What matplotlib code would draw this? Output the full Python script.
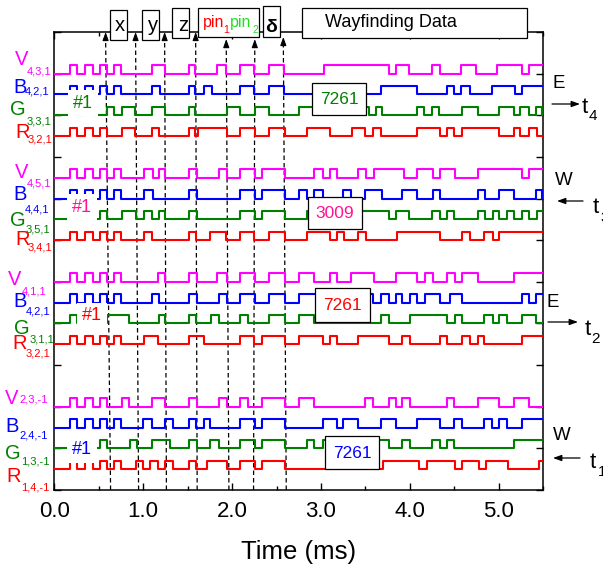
import matplotlib
matplotlib.use("Agg")
import matplotlib.pyplot as plt
from matplotlib.patches import Rectangle
from matplotlib.ticker import MultipleLocator

plt.rcParams['font.family'] = ['Liberation Sans', 'DejaVu Sans']

T_END = 5.5      # ms
PULSE = 0.2      # height of a pulse (y units)

# common preamble of every channel (toggle times, ms)
PRE = [0.18, 0.26, 0.34, 0.43, 0.51, 0.59, 0.67, 0.75]

# toggle times (ms), every line starts low
# t4 group
V_431 = PRE + [1.10, 1.24, 1.51, 1.58, 1.83, 1.93, 2.09, 2.25, 2.41, 2.58, 3.03, 3.77,
               3.84, 3.99, 4.25, 4.34, 4.57, 4.74, 4.98, 5.26, 5.34]
B_421a = PRE + [1.10, 1.19, 1.51, 1.58, 1.68, 1.77, 2.09, 2.25, 2.41, 2.58, 3.67, 4.08,
                4.42, 4.49, 4.57, 4.67, 4.92, 5.18, 5.26]
G_331 = PRE[:4] + [0.59, 0.67, 0.76, 0.91, 1.10, 1.24, 1.51, 1.58, 1.94, 2.09, 2.26, 2.42,
                   2.75, 3.54, 3.62, 3.69, 4.08, 4.16, 4.25, 4.33, 4.58, 4.76, 5.00, 5.17,
                   5.24, 5.34, 5.42, 5.48]
R_321a = PRE[:6] + [0.76, 0.91, 1.10, 1.18, 1.52, 1.58, 1.62, 1.94, 2.09, 2.26, 2.42, 2.59,
                    2.84, 3.10, 3.35, 3.50, 3.59, 3.67, 4.08, 4.34, 4.42, 4.49, 4.59, 5.00,
                    5.17, 5.24, 5.34, 5.43]
# t3 group
V_451 = PRE + [1.01, 1.11, 1.18, 1.25, 1.52, 1.60, 1.85, 1.94, 2.09, 2.26, 2.34, 2.59,
               2.92, 3.02, 3.10, 3.18, 3.42, 3.51, 3.60, 3.93, 4.08, 4.26, 4.34, 4.51,
               4.76, 5.26, 5.34]
B_441 = PRE + [1.01, 1.11, 1.52, 1.60, 2.09, 2.26, 2.34, 2.59, 2.75, 2.84, 2.92, 3.02,
               3.25, 3.34, 3.50, 3.69, 3.91, 4.08, 4.26, 4.34, 4.76, 4.84, 5.00, 5.17,
               5.42, 5.49]
G_351 = PRE[:6] + [0.76, 0.92, 1.01, 1.10, 1.18, 1.25, 1.52, 1.60, 2.09, 2.26, 2.34, 2.59,
                   2.84, 3.76, 3.84, 3.99, 4.25, 4.34, 4.42, 4.49, 4.76, 4.84, 4.93, 5.00,
                   5.09, 5.17, 5.26, 5.34, 5.43]
R_341 = PRE + [1.01, 1.10, 1.51, 1.59, 1.75, 1.93, 2.09, 2.25, 2.41, 2.59, 2.84, 3.10,
               3.18, 3.26, 3.42, 3.51, 3.86, 4.34, 4.59, 4.68, 4.83, 4.93, 5.00]
# t2 group
V_411 = PRE + [1.17, 1.25, 1.52, 1.60, 1.83, 1.94, 2.09, 2.26, 2.42, 2.59, 2.75, 2.92,
               3.10, 3.18, 3.34, 3.60, 3.84, 4.08, 4.17, 4.26, 4.42, 4.51, 4.59, 4.76, 5.17]
B_421b = PRE + [1.10, 1.18, 1.52, 1.60, 1.85, 1.94, 2.09, 2.26, 2.42, 2.59, 2.75, 3.59,
                3.67, 3.76, 3.84, 3.91, 4.00, 4.08, 4.17, 4.34, 4.45, 4.58, 5.26, 5.34, 5.42]
G_311 = PRE[:4] + [0.59, 0.84, 1.18, 1.25, 1.51, 1.59, 1.76, 1.85, 2.09, 2.18, 2.42, 2.59,
                   2.75, 2.92, 3.67, 3.76, 4.00, 4.42, 4.51, 4.59, 4.83, 4.93, 5.00, 5.09,
                   5.26, 5.42]
R_321b = PRE + [1.01, 1.17, 1.51, 1.68, 2.09, 2.25, 2.34, 2.59, 2.75, 3.02, 3.10, 3.18,
                3.42, 3.76, 3.91, 4.00, 4.34, 4.42, 4.59, 4.68, 4.76, 4.83, 5.26]
# t1 group
V_231 = PRE[:6] + [0.76, 0.84, 1.10, 1.25, 1.52, 1.60, 1.85, 1.94, 2.09, 2.18, 2.34, 2.59,
                   2.75, 2.92, 3.50, 3.59, 3.76, 3.84, 3.91, 4.00, 4.42, 4.49, 4.76, 5.00,
                   5.17, 5.34]
B_241 = PRE + [1.00, 1.10, 1.25, 1.34, 1.51, 1.59, 1.68, 1.75, 2.09, 2.26, 2.34, 2.59,
               3.02, 3.18, 3.25, 3.42, 3.67, 3.84, 4.08, 4.34, 4.49, 4.59, 4.83, 4.92,
               5.00, 5.09, 5.26]
G_131 = PRE[:6] + [0.85, 0.93, 1.10, 1.30, 1.52, 1.60, 1.75, 1.85, 2.09, 2.26, 2.34, 2.59,
                   2.84, 2.92, 3.02, 3.76, 3.91, 4.00, 4.25, 4.34, 4.42, 4.49, 5.17]
R_141 = PRE + [0.92, 1.00, 1.08, 1.17, 1.25, 1.34, 1.51, 1.59, 1.72, 1.94, 2.09, 2.26,
               2.34, 2.60, 3.70, 4.10, 4.19, 4.51, 4.59, 4.78, 4.85, 5.10, 5.45]

EDGES = [V_431, B_421a, G_331, R_321a, V_451, B_441, G_351, R_341,
         V_411, B_421b, G_311, R_321b, V_231, B_241, G_131, R_141]
LEVELS = [10.0, 9.5, 9.0, 8.5, 7.5, 7.0, 6.5, 6.0, 5.0, 4.5, 4.0, 3.5, 2.0, 1.5, 1.0, 0.5]
LETTERS = ["V", "B", "G", "R"] * 4
INDICES = ["4,3,1", "4,2,1", "3,3,1", "3,2,1", "4,5,1", "4,4,1", "3,5,1", "3,4,1",
           "4,1,1", "4,2,1", "3,1,1", "3,2,1", "2,3,-1", "2,4,-1", "1,3,-1", "1,4,-1"]
COLORS = ["#ff00ff", "#0000ff", "#008000", "#ff0000"] * 4

CODES = ["7261", "3009", "7261", "7261"]
CODE_COLORS = ["#008000", "#ff1493", "#ff0000", "#0000ff"]
DIRECTIONS = ["E", "W", "E", "W"]
T_INDEX = ["4", "3", "2", "1"]

# field boundaries (ms) at the bottom axis and at the arrow tips
MARK_BOTTOM = [0.633, 0.948, 1.261, 1.607, 1.964, 2.241, 2.609]
MARK_TOP = [0.577, 0.914, 1.241, 1.590, 1.934, 2.255, 2.576]
MARK_TIP = [11.0, 11.0, 11.0, 11.0, 10.83, 10.83, 10.88]


def square(edges, base):
    xs = [0.0] + list(edges) + [T_END]
    ys = [base + PULSE * (i % 2) for i in range(len(edges) + 1)]
    ys.append(ys[-1])
    return xs, ys


fig = plt.figure(figsize=(6.03, 5.67), dpi=100)
ax = fig.add_axes([54.3 / 603, 1 - 490 / 567, 489 / 603, 458 / 567])

for edges, base, col in zip(EDGES, LEVELS, COLORS):
    xs, ys = square(edges, base)
    ax.step(xs, ys, where="post", color=col, lw=1.5, zorder=3)

# dashed field markers with arrow heads
for xb, xt, yt in zip(MARK_BOTTOM, MARK_TOP, MARK_TIP):
    ax.plot([xb, xt], [0, yt - 0.12], color="black", lw=0.9, ls=(0, (3.6, 2.4)),
            zorder=2, clip_on=False)
    ax.annotate("", xy=(xt, yt), xytext=(xt, yt - 0.2), annotation_clip=False,
                arrowprops=dict(arrowstyle="-|>,head_length=0.5,head_width=0.18",
                                color="black", lw=0.8, shrinkA=0, shrinkB=0))

ax.set_xlim(0, T_END)
ax.set_ylim(0, 11)
ax.xaxis.set_minor_locator(MultipleLocator(0.5))
ax.yaxis.set_major_locator(MultipleLocator(1.0))
ax.set_xticks([0, 1, 2, 3, 4, 5])
ax.set_xticklabels(["0.0", "1.0", "2.0", "3.0", "4.0", "5.0"])
ax.set_yticklabels([])
ax.tick_params(which="both", direction="in", top=True, right=True, width=1)
ax.tick_params(which="major", length=5, labelsize=16, pad=8)
ax.tick_params(which="minor", length=3)
for s in ax.spines.values():
    s.set_linewidth(1.1)
ax.set_xlabel("Time (ms)", fontsize=18.5, labelpad=13)

# overlay in pixel coordinates for the annotations
ov = fig.add_axes([0, 0, 1, 1])
ov.set_xlim(0, 603)
ov.set_ylim(567, 0)
ov.axis("off")

# channel names on the left
LAB_POS = [(15, 65, 27, 74), (13, 93, 25, 94), (10, 115, 27, 124), (15, 138, 28, 142),
           (15, 178, 27, 187), (13, 200, 25, 213), (10, 226, 26, 233), (15, 245, 28, 251),
           (8, 285, 22, 295), (13, 307, 26, 315), (14, 334, 30, 343), (12, 349, 26, 357),
           (5, 404, 19, 403), (5, 432, 19, 439), (5, 459, 21, 465), (6, 482, 21, 490)]
for let, idx, col, (lx, ly, ix, iy) in zip(LETTERS, INDICES, COLORS, LAB_POS):
    ov.text(lx, ly, let, color=col, fontsize=14.5, ha="left", va="baseline")
    ov.text(ix, iy, idx, color=col, fontsize=8, ha="left", va="baseline")

# "#1" labels with white background
HASH_POS = [(83, 103), (82, 207), (92, 316), (82, 450)]
for (hx, hy), col in zip(HASH_POS, CODE_COLORS):
    ov.text(hx, hy, "#1", color=col, fontsize=13, ha="center", va="center",
            bbox=dict(facecolor="white", edgecolor="none", pad=3.5))

# code boxes
CODE_BOX = [(312, 83, 54, 32), (308, 197, 54, 31.5), (315, 288, 55, 34), (325, 436, 54, 33)]
for (bx, by, bw, bh), code, col in zip(CODE_BOX, CODES, CODE_COLORS):
    ov.add_patch(Rectangle((bx, by), bw, bh, facecolor="white", edgecolor="black",
                           lw=0.9, zorder=4))
    ov.text(bx + bw / 2, by + bh / 2 + 1, code, color=col, fontsize=12.5,
            ha="center", va="center", zorder=5)

# direction and time labels on the right
RIGHT = [(552, 88, 552, 580, 104, 582, 113, 589, 120),
         (555, 185, 583, 557, 201, 593, 213, 600, 222),
         (547, 307, 548, 578, 322, 585, 335, 591, 343),
         (553, 440, 580, 553, 458, 590, 468, 598, 476)]
for d, ti, (dx, dy, ax0, ax1, ay, tx, ty, sx, sy) in zip(DIRECTIONS, T_INDEX, RIGHT):
    ov.text(dx, dy, d, fontsize=13.5, ha="left", va="baseline")
    ov.annotate("", xy=(ax1, ay), xytext=(ax0, ay),
                arrowprops=dict(arrowstyle="-|>,head_length=0.5,head_width=0.18",
                                color="black", lw=0.9, shrinkA=0, shrinkB=0))
    ov.text(tx, ty, "t", fontsize=16, ha="left", va="baseline")
    ov.text(sx, sy, ti, fontsize=11, ha="left", va="baseline")

# packet header boxes along the top
HEAD_BOX = [(110, 10, 17, 30), (141.7, 10, 17.3, 30), (172.3, 8.3, 16.7, 30),
            (197.7, 8.3, 61.6, 28.4), (263.3, 6, 16.7, 31.3), (301.7, 8.3, 225.6, 30)]
for bx, by, bw, bh in HEAD_BOX:
    ov.add_patch(Rectangle((bx, by), bw, bh, facecolor="white", edgecolor="black", lw=0.9))
ov.text(120, 31, "x", fontsize=14.5, ha="center", va="baseline")
ov.text(152.8, 31, "y", fontsize=14.5, ha="center", va="baseline")
ov.text(182.8, 31, "z", fontsize=14.5, ha="center", va="baseline")
ov.text(203, 27, "pin", color="#ff0000", fontsize=11.5, ha="left", va="baseline")
ov.text(223, 33, "1", color="#ff0000", fontsize=7.5, ha="left", va="baseline")
ov.text(229.5, 27, "pin", color="#22dd22", fontsize=11.5, ha="left", va="baseline")
ov.text(252.5, 33, "2", color="#22dd22", fontsize=7.5, ha="left", va="baseline")
ov.text(271.5, 31.5, "δ", fontsize=14, fontweight="bold", ha="center", va="baseline")
ov.text(325, 26.7, "Wayfinding Data", fontsize=13, ha="left", va="baseline")

fig.savefig("out.png", dpi=100)
